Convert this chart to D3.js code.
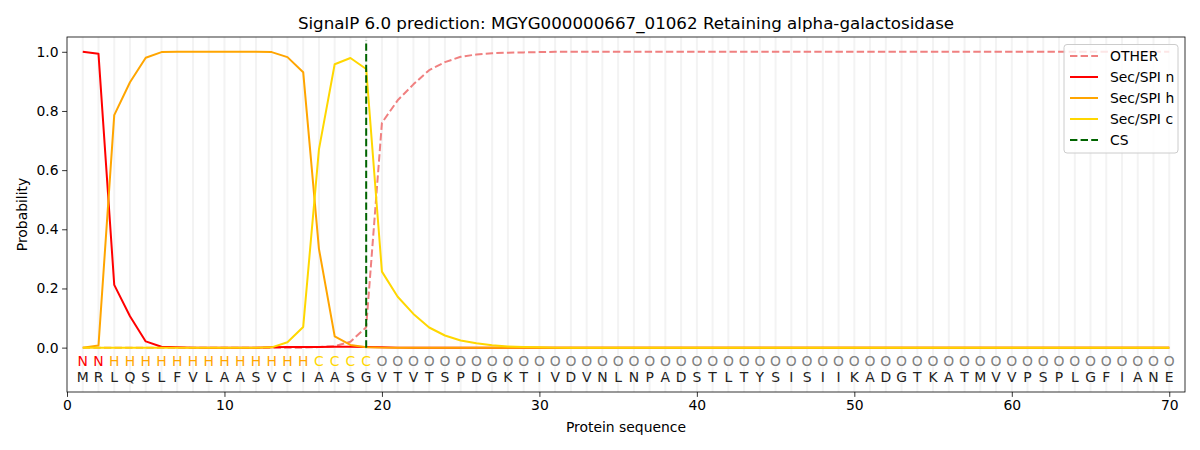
<!DOCTYPE html>
<html lang="en">
<head>
<meta charset="UTF-8">
<title>SignalP 6.0 prediction</title>
<style>
    body { margin: 0; background: #fff; }
    svg { display: block; font-family: "DejaVu Sans", sans-serif; }
</style>
</head>
<body>
<svg id="chart" width="1200" height="450"></svg>
<script src="https://d3js.org/d3.v7.min.js"></script>
<script>
// sequence and per-residue labels
const sequence = "MRLQSLFVLAASVCIAASGVTVTSPDGKTIVDVNLNPADSTLTYSISIIKADGTKATMVVPSPLGFIANE".split("");
const regionLabels = "NNHHHHHHHHHHHHHCCCCOOOOOOOOOOOOOOOOOOOOOOOOOOOOOOOOOOOOOOOOOOOOOOOOOOO".split("");

// probabilities per residue (positions 1..70)
const other = [0,0,0,0,0,0,0,0,0,0,0,0,0,0,0,0.002,0.005,0.02,0.069,0.76,
    0.836,0.89,0.938,0.965,0.983,0.991,0.995,0.997,0.998,0.999,
    1,1,1,1,1,1,1,1,1,1,1,1,1,1,1,1,1,1,1,1,
    1,1,1,1,1,1,1,1,1,1,1,1,1,1,1,1,1,1,1,1];
const secN = [1.0,0.993,0.212,0.106,0.021,0.003,0.001,0,0,0,0,0,0.001,0.002,0.002,0.002,0.003,0.003,0.002,0.001,
    0,0,0,0,0,0,0,0,0,0,0,0,0,0,0,0,0,0,0,0,
    0,0,0,0,0,0,0,0,0,0,0,0,0,0,0,0,0,0,0,0,
    0,0,0,0,0,0,0,0,0,0];
const secH = [0,0.007,0.786,0.897,0.98,0.999,1,1,1,1,1,1,0.999,0.982,0.931,0.334,0.038,0.009,0.001,0,
    0,0,0,0,0,0,0,0,0,0,0,0,0,0,0,0,0,0,0,0,
    0,0,0,0,0,0,0,0,0,0,0,0,0,0,0,0,0,0,0,0,
    0,0,0,0,0,0,0,0,0,0];
const secC = [0,0,0,0,0,0,0,0,0,0,0,0,0.001,0.018,0.07,0.67,0.958,0.979,0.942,0.257,
    0.172,0.114,0.068,0.041,0.024,0.015,0.008,0.004,0.002,0.001,
    0,0,0,0,0,0,0,0,0,0,0,0,0,0,0,0,0,0,0,0,
    0,0,0,0,0,0,0,0,0,0,0,0,0,0,0,0,0,0,0,0];
const cleavageSite = 19;

const xTicks = [0, 10, 20, 30, 40, 50, 60, 70];
const yTicks = [0, 0.2, 0.4, 0.6, 0.8, 1.0];

const series = [
    { name: "OTHER", values: other, color: "#f08080", dash: "7.4,3.2" },
    { name: "Sec/SPI n", values: secN, color: "#ff0000", dash: null },
    { name: "Sec/SPI h", values: secH, color: "#ffa500", dash: null },
    { name: "Sec/SPI c", values: secC, color: "#ffd700", dash: null }
];
const labelColor = { N: "#ff0000", H: "#ffa500", C: "#ffd700", O: "#808080" };

const svg = d3.select("#chart");
const plotLeft = 67, plotRight = 1185, plotTop = 37, plotBottom = 392;

const x = d3.scaleLinear().domain([0, 71]).range([plotLeft, plotRight]);
const y = d3.scaleLinear().domain([-0.15, 1.05]).range([plotBottom, plotTop]);

// light vertical guides, one per residue
svg.append("g").selectAll("line")
    .data(sequence)
    .join("line")
    .attr("x1", (d, i) => x(i + 1)).attr("x2", (d, i) => x(i + 1))
    .attr("y1", plotTop).attr("y2", plotBottom)
    .attr("stroke", "#f3f3f3").attr("stroke-width", 2);

// probability curves
const line = d3.line()
    .x((d, i) => x(i + 1))
    .y(d => y(d));

series.forEach(s => {
    svg.append("path")
        .datum(s.values)
        .attr("d", line)
        .attr("fill", "none")
        .attr("stroke", s.color)
        .attr("stroke-width", 2)
        .attr("stroke-linejoin", "round")
        .attr("stroke-dasharray", s.dash);
});

// cleavage site
svg.append("line")
    .attr("x1", x(cleavageSite)).attr("x2", x(cleavageSite))
    .attr("y1", y(0)).attr("y2", y(1.04))
    .attr("stroke", "#006400").attr("stroke-width", 2)
    .attr("stroke-dasharray", "7.4,3.2");

// region labels and residues
svg.append("g").selectAll("text")
    .data(regionLabels)
    .join("text")
    .attr("x", (d, i) => x(i + 1))
    .attr("y", 366)
    .attr("text-anchor", "middle")
    .attr("font-size", 13.9)
    .attr("fill", d => labelColor[d])
    .text(d => d);

svg.append("g").selectAll("text")
    .data(sequence)
    .join("text")
    .attr("x", (d, i) => x(i + 1))
    .attr("y", 382)
    .attr("text-anchor", "middle")
    .attr("font-size", 13.9)
    .attr("fill", "#222")
    .text(d => d);

// axes
const xAxis = svg.append("g")
    .attr("transform", `translate(0,${plotBottom})`)
    .call(d3.axisBottom(x).tickValues(xTicks).tickSize(4.9).tickPadding(3.5).tickFormat(d3.format("d")));
const yAxis = svg.append("g")
    .attr("transform", `translate(${plotLeft},0)`)
    .call(d3.axisLeft(y).tickValues(yTicks).tickSize(4.9).tickPadding(3.5).tickFormat(d3.format(".1f")));
[xAxis, yAxis].forEach(a => {
    a.select(".domain").remove();
    a.selectAll("line").attr("stroke", "#000").attr("stroke-width", 0.8);
    a.selectAll("text").attr("font-size", 13.9).attr("fill", "#000")
        .attr("font-family", "DejaVu Sans, sans-serif");
});

// frame
svg.append("rect")
    .attr("x", plotLeft).attr("y", plotTop)
    .attr("width", plotRight - plotLeft).attr("height", plotBottom - plotTop)
    .attr("fill", "none").attr("stroke", "#000").attr("stroke-width", 0.8);

// titles
svg.append("text")
    .attr("x", (plotLeft + plotRight) / 2).attr("y", 29)
    .attr("text-anchor", "middle").attr("font-size", 16.7)
    .text("SignalP 6.0 prediction: MGYG000000667_01062 Retaining alpha-galactosidase");
svg.append("text")
    .attr("x", (plotLeft + plotRight) / 2).attr("y", 432)
    .attr("text-anchor", "middle").attr("font-size", 13.9)
    .text("Protein sequence");
svg.append("text")
    .attr("transform", `translate(27,${(plotTop + plotBottom) / 2}) rotate(-90)`)
    .attr("text-anchor", "middle").attr("font-size", 13.9)
    .text("Probability");

// legend
const legendItems = series.map(s => ({ name: s.name, color: s.color, dash: s.dash }))
    .concat([{ name: "CS", color: "#006400", dash: "7.4,3.2" }]);
const legend = svg.append("g");
legend.append("rect")
    .attr("x", 1064).attr("y", 44.5).attr("width", 114).attr("height", 108.5)
    .attr("rx", 3).attr("fill", "#fff").attr("fill-opacity", 0.8)
    .attr("stroke", "#cccccc").attr("stroke-width", 1);
legendItems.forEach((d, i) => {
    const ly = 56 + i * 21;
    legend.append("line")
        .attr("x1", 1070).attr("x2", 1098).attr("y1", ly).attr("y2", ly)
        .attr("stroke", d.color).attr("stroke-width", 2)
        .attr("stroke-dasharray", d.dash);
    legend.append("text")
        .attr("x", 1110).attr("y", ly + 5)
        .attr("font-size", 13.9).text(d.name);
});
</script>
</body>
</html>
